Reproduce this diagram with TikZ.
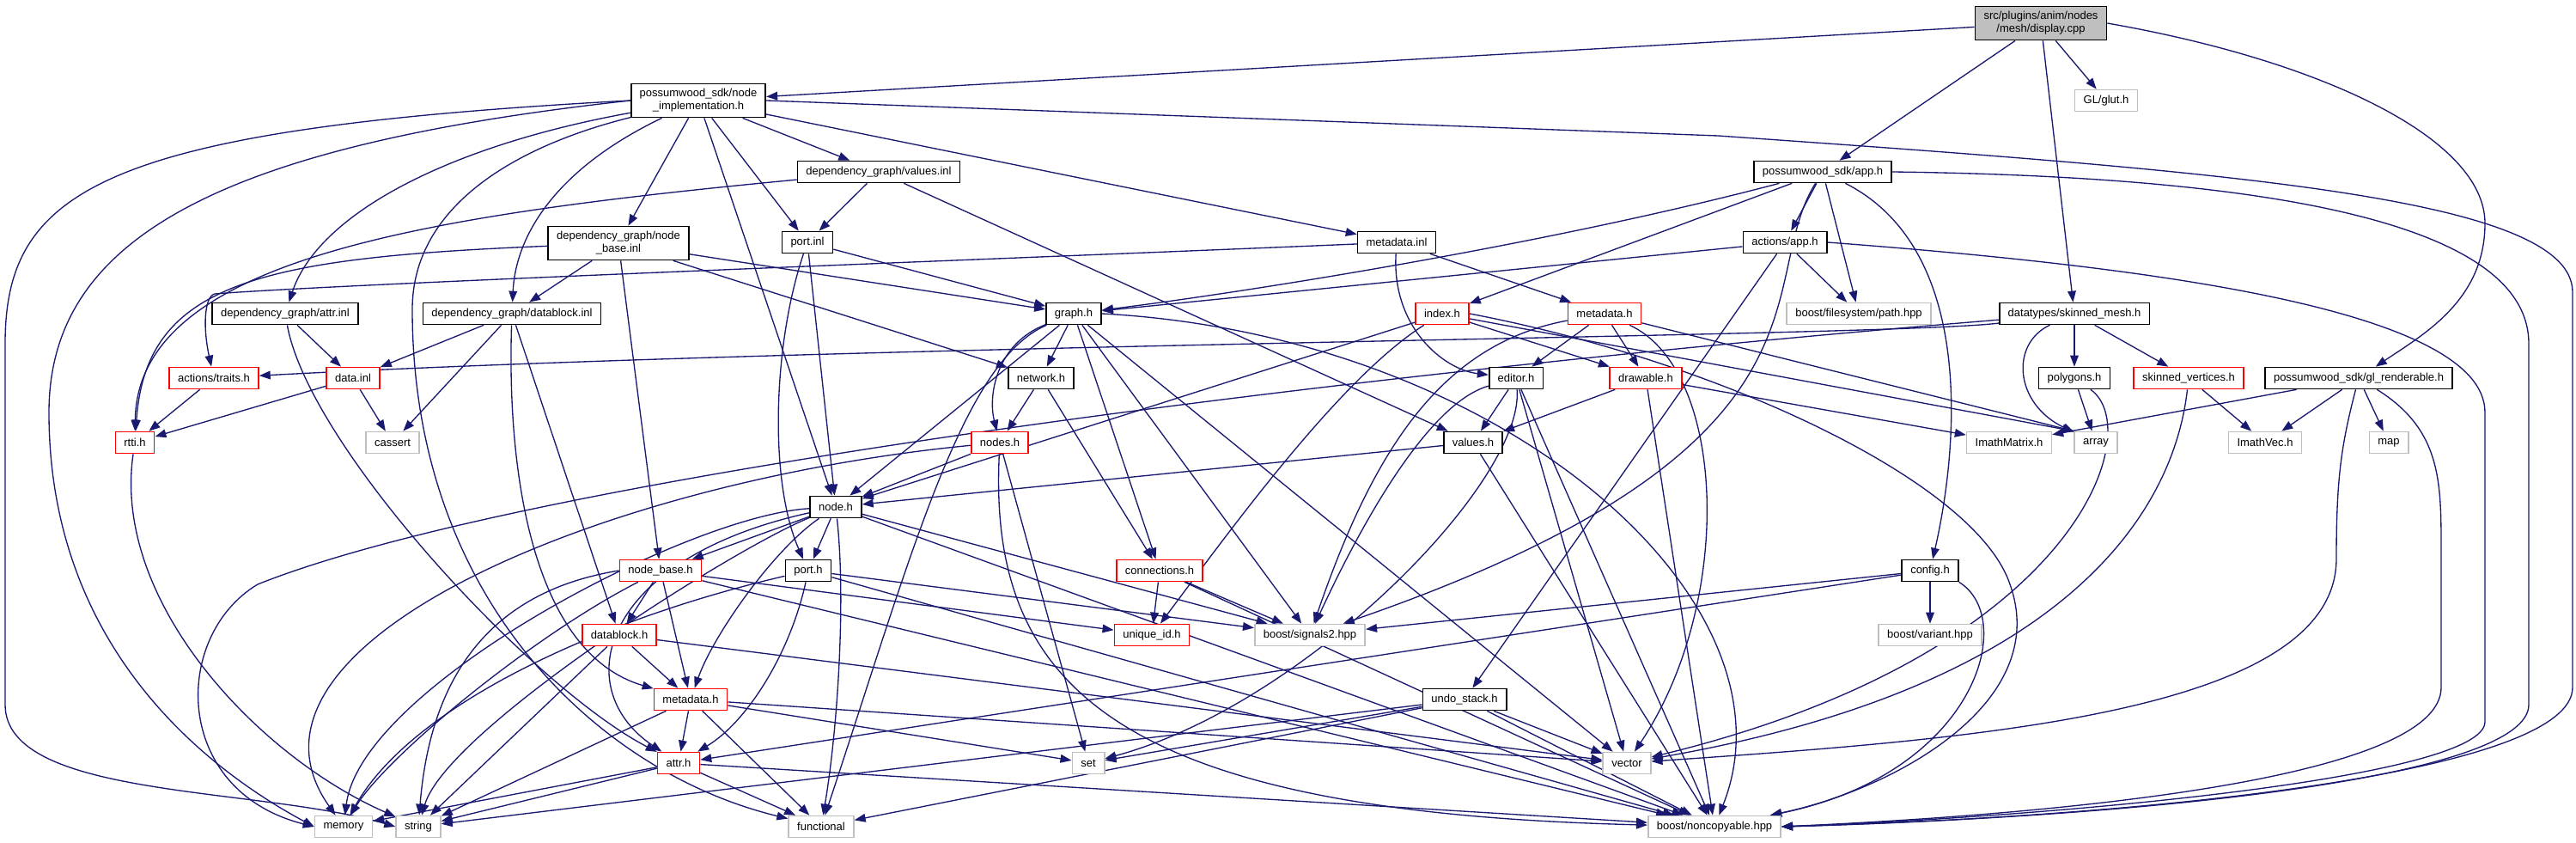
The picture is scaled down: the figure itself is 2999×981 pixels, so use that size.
\documentclass[tikz,border=0pt]{standalone}
\usepackage{fontspec}
\setmainfont{Liberation Sans}
\usetikzlibrary{arrows.meta,backgrounds}
\definecolor{edgeblue}{HTML}{191970}
\definecolor{extgray}{HTML}{BFBFBF}

\begin{document}
\begin{tikzpicture}[
  x=0.3pt, y=-0.3pt,
  font=\fontsize{3.9pt}{4.5pt}\selectfont,
  n/.style={draw, line width=0.5pt, fill=white, align=center, inner xsep=3pt, inner ysep=1.8pt, minimum height=7.5pt},
  nr/.style={n, draw=red},
  ng/.style={n, draw=extgray},
  nroot/.style={n, fill=extgray},
  arr/.style={-{Triangle[length=3.9pt,width=2.9pt]}, edgeblue, line width=0.4pt}
]
\useasboundingbox (0,0) rectangle (2999,981);

\node[nroot] (root) at (2376,27) {src/plugins/anim/nodes\\/mesh/display.cpp};
\node[ng] (glut) at (2452,117) {GL/glut.h};
\node[n] (ni) at (813,117) {possumwood\_sdk/node\\\_implementation.h};
\node[n] (vinl) at (1023,200) {dependency\_graph/values.inl};
\node[n] (apph) at (2122,200) {possumwood\_sdk/app.h};
\node[n] (nbinl) at (720,283) {dependency\_graph/node\\\_base.inl};
\node[n] (portinl) at (940,282) {port.inl};
\node[n] (metainl) at (1626,282) {metadata.inl};
\node[n] (actapp) at (2078,282) {actions/app.h};
\node[n] (attrinl) at (332,365) {dependency\_graph/attr.inl};
\node[n] (dbinl) at (596,365) {dependency\_graph/datablock.inl};
\node[n] (graph) at (1250,365) {graph.h};
\node[nr] (index) at (1679,365) {index.h};
\node[nr] (metah) at (1868,365) {metadata.h};
\node[ng] (path) at (2164,365) {boost/filesystem/path.hpp};
\node[n] (skm) at (2415,365) {datatypes/skinned\_mesh.h};
\node[nr] (traits) at (249,440) {actions/traits.h};
\node[nr] (datainl) at (411,440) {data.inl};
\node[n] (network) at (1212,440) {network.h};
\node[n] (editor) at (1765,440) {editor.h};
\node[nr] (drawable) at (1916,440) {drawable.h};
\node[n] (polygons) at (2415,440) {polygons.h};
\node[nr] (skv) at (2548,440) {skinned\_vertices.h};
\node[n] (glr) at (2746,440) {possumwood\_sdk/gl\_renderable.h};
\node[nr] (rtti) at (157,515) {rtti.h};
\node[ng] (cassert) at (457,515) {cassert};
\node[nr] (nodes) at (1164,515) {nodes.h};
\node[n] (values) at (1715,515) {values.h};
\node[ng] (imatrix) at (2339,515) {ImathMatrix.h};
\node[ng] (array) at (2440,515) {array};
\node[ng] (ivec) at (2637,515) {ImathVec.h};
\node[ng] (map) at (2781,515) {map};
\node[n] (nodeh) at (973,590) {node.h};
\node[nr] (nbh) at (769,664) {node\_base.h};
\node[n] (porth) at (941,664) {port.h};
\node[nr] (conn) at (1350,664) {connections.h};
\node[n] (config) at (2247,664) {config.h};
\node[nr] (dbh) at (721,739) {datablock.h};
\node[nr] (uid) at (1341,739) {unique\_id.h};
\node[ng] (sig) at (1525,739) {boost/signals2.hpp};
\node[ng] (variant) at (2247,739) {boost/variant.hpp};
\node[nr] (meta2) at (804,814) {metadata.h};
\node[n] (undo) at (1705,814) {undo\_stack.h};
\node[nr] (attrh) at (790,888) {attr.h};
\node[ng] (set) at (1267,888) {set};
\node[ng] (vector) at (1894,888) {vector};
\node[ng] (memory) at (400,962) {memory};
\node[ng] (string) at (487,962) {string};
\node[ng] (functional) at (956,962) {functional};
\node[ng] (nonc) at (1996,962) {boost/noncopyable.hpp};

\begin{scope}[on background layer]
\draw[arr] (root) -- (ni);
\draw[arr] (root) -- (apph);
\draw[arr] (root) -- (glut);
\draw[arr] (root) -- (skm);
\draw[arr] (root.east) .. controls (2700,70) and (2893,160) .. (2893,260) .. controls (2893,350) and (2820,390) .. (glr);

\draw[arr] (ni) -- (vinl);
\draw[arr] (ni) -- (portinl);
\draw[arr] (ni) -- (metainl);
\draw[arr] (ni) -- (nbinl);
\draw[arr] (ni) -- (nodeh);
\draw[arr] (ni) .. controls (520,170) and (370,250) .. (attrinl);
\draw[arr] (ni) .. controls (640,200) and (600,280) .. (dbinl);
\draw[arr] (ni) .. controls (600,170) and (480,240) .. (480,360) .. controls (480,700) and (700,900) .. (functional);
\draw[arr] (ni.west) .. controls (250,170) and (57,280) .. (57,480) .. controls (57,760) and (250,900) .. (memory.west);
\draw[arr] (ni.west) .. controls (120,150) and (6,220) .. (6,400) -- (6,820) .. controls (6,930) and (300,915) .. (string.west);
\draw[arr] (ni.east) -- (2000,158) .. controls (2600,200) and (2995,230) .. (2995,340) -- (2995,800) .. controls (2995,900) and (2500,950) .. (nonc.east);

\draw[arr] (apph) .. controls (1800,285) and (1450,340) .. (graph);
\draw[arr] (apph) -- (index);
\draw[arr] (apph) -- (actapp);
\draw[arr] (apph) -- (path);
\draw[arr] (apph) .. controls (2300,290) and (2280,520) .. (config);
\draw[arr] (apph) .. controls (2040,330) and (2160,520) .. (sig);
\draw[arr] (apph.east) .. controls (2600,205) and (2944,250) .. (2944,400) -- (2944,820) .. controls (2944,905) and (2500,950) .. (nonc.east);

\draw[arr] (actapp) -- (graph);
\draw[arr] (actapp) -- (path);
\draw[arr] (actapp) -- (undo);
\draw[arr] (actapp.east) .. controls (2500,310) and (2893,360) .. (2893,480) -- (2893,840) .. controls (2893,905) and (2400,950) .. (nonc.east);

\draw[arr] (vinl) -- (portinl);
\draw[arr] (vinl) -- (values);
\draw[arr] (vinl) .. controls (500,250) and (160,300) .. (rtti);

\draw[arr] (portinl) -- (graph);
\draw[arr] (portinl) -- (nodeh);
\draw[arr] (portinl) .. controls (900,400) and (895,560) .. (porth);

\draw[arr] (metainl) .. controls (1200,300) and (400,330) .. (250,342) .. controls (238,345) and (236,380) .. (traits);
\draw[arr] (metainl) .. controls (1620,380) and (1680,430) .. (editor);
\draw[arr] (metainl) -- (metah);

\draw[arr] (nbinl) -- (dbinl);
\draw[arr] (nbinl) -- (graph);
\draw[arr] (nbinl) -- (network);
\draw[arr] (nbinl) -- (nbh);
\draw[arr] (nbinl) .. controls (300,300) and (170,330) .. (rtti);

\draw[arr] (attrinl) -- (datainl);
\draw[arr] (attrinl) .. controls (360,520) and (620,800) .. (attrh);

\draw[arr] (dbinl) -- (datainl);
\draw[arr] (dbinl) -- (cassert);
\draw[arr] (dbinl) -- (dbh);
\draw[arr] (dbinl) .. controls (590,550) and (620,760) .. (meta2);

\draw[arr] (datainl) -- (rtti);
\draw[arr] (datainl) -- (cassert);
\draw[arr] (traits) -- (rtti);
\draw[arr] (rtti) .. controls (130,700) and (300,880) .. (string);

\draw[arr] (graph) -- (network);
\draw[arr] (graph) .. controls (1160,400) and (1150,460) .. (nodes);
\draw[arr] (graph) -- (nodeh);
\draw[arr] (graph) .. controls (1120,420) and (1060,650) .. (functional);
\draw[arr] (graph) -- (conn);
\draw[arr] (graph) -- (sig);
\draw[arr] (graph) -- (vector);
\draw[arr] (graph.east) .. controls (1750,390) and (2100,700) .. (nonc);

\draw[arr] (network) -- (nodes);
\draw[arr] (network) -- (conn);

\draw[arr] (nodes) -- (nodeh);
\draw[arr] (nodes) -- (set);
\draw[arr] (nodes) .. controls (1150,800) and (1300,945) .. (nonc);
\draw[arr] (nodes) .. controls (700,560) and (250,750) .. (memory);

\draw[arr] (index) -- (nodeh);
\draw[arr] (index) .. controls (1560,440) and (1430,620) .. (uid);
\draw[arr] (index) -- (drawable);
\draw[arr] (index) -- (array.north west);
\draw[arr] (index.east) .. controls (2000,420) and (2300,560) .. (2340,680) .. controls (2390,820) and (2200,920) .. (nonc);

\draw[arr] (metah) -- (editor);
\draw[arr] (metah) -- (drawable);
\draw[arr] (metah) .. controls (1680,400) and (1600,520) .. (sig);
\draw[arr] (metah) .. controls (2010,430) and (2020,700) .. (vector);
\draw[arr] (metah) -- (array.north west);

\draw[arr] (editor) -- (values);
\draw[arr] (editor) -- (vector);
\draw[arr] (editor) -- (nonc);
\draw[arr] (editor) .. controls (1660,470) and (1580,620) .. (sig);
\draw[arr] (editor) .. controls (1775,560) and (1520,820) .. (set);

\draw[arr] (drawable) -- (values);
\draw[arr] (drawable) -- (imatrix);
\draw[arr] (drawable) -- (nonc);

\draw[arr] (values) -- (nodeh);
\draw[arr] (values) -- (nonc);

\draw[arr] (undo) -- (set);
\draw[arr] (undo) -- (string);
\draw[arr] (undo) -- (functional);
\draw[arr] (undo) -- (vector);
\draw[arr] (undo) -- (nonc);

\draw[arr] (config) -- (sig);
\draw[arr] (config) -- (attrh);
\draw[arr] (config) -- (variant);
\draw[arr] (config.south east) .. controls (2350,720) and (2300,900) .. (nonc);

\draw[arr] (nodeh) -- (nbh);
\draw[arr] (nodeh) -- (porth);
\draw[arr] (nodeh) .. controls (900,640) and (830,740) .. (meta2);
\draw[arr] (nodeh) .. controls (700,650) and (660,800) .. (attrh);
\draw[arr] (nodeh) .. controls (985,700) and (975,850) .. (functional);
\draw[arr] (nodeh) .. controls (800,600) and (420,800) .. (memory);
\draw[arr] (nodeh) .. controls (850,640) and (520,850) .. (string);
\draw[arr] (nodeh) -- (sig);
\draw[arr] (nodeh) -- (nonc);

\draw[arr] (nbh) -- (dbh);
\draw[arr] (nbh) -- (meta2);
\draw[arr] (nbh) -- (uid);
\draw[arr] (nbh) -- (nonc);
\draw[arr] (nbh.west) .. controls (560,690) and (500,800) .. (string);
\draw[arr] (nbh) .. controls (620,740) and (450,880) .. (memory);

\draw[arr] (porth) .. controls (920,760) and (870,840) .. (attrh);
\draw[arr] (porth) -- (sig);
\draw[arr] (porth) -- (nonc);
\draw[arr] (porth) .. controls (700,720) and (480,820) .. (memory);

\draw[arr] (dbh) -- (meta2);
\draw[arr] (dbh) -- (string);
\draw[arr] (dbh) -- (vector);

\draw[arr] (meta2) -- (attrh);
\draw[arr] (meta2) -- (string);
\draw[arr] (meta2) -- (functional);
\draw[arr] (meta2) -- (vector);
\draw[arr] (meta2) -- (set);

\draw[arr] (attrh) -- (memory);
\draw[arr] (attrh) -- (string);
\draw[arr] (attrh) -- (functional);
\draw[arr] (attrh) -- (nonc);

\draw[arr] (conn) -- (uid);
\draw[arr] (conn) -- (sig);
\draw[arr] (conn) -- (nonc);

\draw[arr] (skm) .. controls (2200,392) and (1000,400) .. (traits);
\draw[arr] (skm) .. controls (1500,440) and (600,560) .. (300,680) .. controls (200,740) and (200,920) .. (memory.west);
\draw[arr] (skm) -- (polygons);
\draw[arr] (skm) -- (skv);
\draw[arr] (skm) .. controls (2340,400) and (2345,470) .. (array);

\draw[arr] (polygons) -- (array);
\draw[arr] (polygons) .. controls (2500,500) and (2420,760) .. (vector);

\draw[arr] (skv) -- (ivec);
\draw[arr] (skv) .. controls (2530,600) and (2400,800) .. (vector);

\draw[arr] (glr) -- (imatrix);
\draw[arr] (glr) -- (ivec);
\draw[arr] (glr) -- (map);
\draw[arr] (glr) .. controls (2725,520) and (2720,560) .. (2720,650) .. controls (2720,830) and (2300,860) .. (vector);
\draw[arr] (glr) .. controls (2842,500) and (2842,560) .. (2842,640) -- (2842,800) .. controls (2842,900) and (2450,945) .. (nonc.east);
\end{scope}
\end{tikzpicture}
\end{document}
